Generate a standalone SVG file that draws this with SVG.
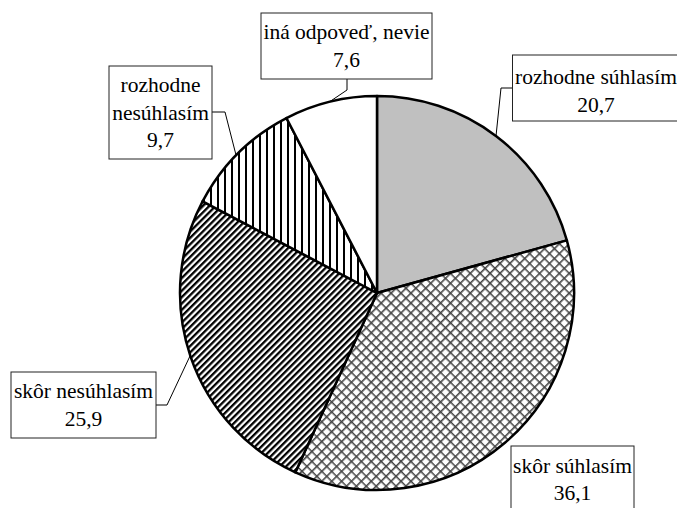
<svg xmlns="http://www.w3.org/2000/svg" width="677" height="508" viewBox="0 0 677 508">
<style>
.lbl{fill:#fff;stroke:#222;stroke-width:1}
text{font-family:'Liberation Serif','Times New Roman','DejaVu Serif',serif;font-size:21.5px;fill:#000;text-anchor:middle}
.slice{stroke:#000;stroke-width:2.5;stroke-linejoin:round}
.lead{fill:none;stroke:#000;stroke-width:1}
</style>
<defs>
<pattern id="cross" patternUnits="userSpaceOnUse" width="7" height="7" patternTransform="rotate(45)">
<rect width="7" height="7" fill="#fff"/>
<path d="M0 0.8H7M0.8 0V7" stroke="#444" stroke-width="1.6"/>
</pattern>
<pattern id="diag" patternUnits="userSpaceOnUse" width="4.5" height="4.5" patternTransform="rotate(-45)">
<rect width="4.5" height="4.5" fill="#fff"/>
<rect y="0" width="4.5" height="2.3" fill="#000"/>
</pattern>
<pattern id="vert" patternUnits="userSpaceOnUse" width="7" height="7">
<rect width="7" height="7" fill="#fff"/>
<rect x="0" width="2" height="7" fill="#000"/>
</pattern>
</defs>
<g id="pie">
<g id="slice-rozhodne-suhlasim"><path class="slice" fill="#c0c0c0" d="M377 293L377 96A197 197 0 0 1 566.85 240.42Z"/></g>
<g id="slice-skor-suhlasim"><path class="slice" fill="url(#cross)" d="M377 293L566.85 240.42A197 197 0 0 1 295.36 472.29Z"/></g>
<g id="slice-skor-nesuhlasim"><path class="slice" fill="url(#diag)" d="M377 293L295.36 472.29A197 197 0 0 1 202.6 201.4Z"/></g>
<g id="slice-rozhodne-nesuhlasim"><path class="slice" fill="url(#vert)" d="M377 293L202.6 201.4A197 197 0 0 1 286.44 118.05Z"/></g>
<g id="slice-ina"><path class="slice" fill="#fff" d="M377 293L286.44 118.05A197 197 0 0 1 377 96Z"/></g>
</g>
<g id="connectors">
<polyline class="lead" points="347,79 347,90 330,101.5"/>
<polyline class="lead" points="212,112 225,112 236,155"/>
<polyline class="lead" points="512,88 501,88 496,136"/>
<polyline class="lead" points="156,405 167,405 190,356"/>
</g>
<g id="label-ina">
<rect class="lbl" x="261" y="13" width="171" height="66"/>
<text x="346.5" y="38.5">iná odpoveď, nevie</text>
<text x="346.5" y="66.5">7,6</text>
</g>
<g id="label-rozhodne-nesuhlasim">
<rect class="lbl" x="109" y="66" width="103" height="93"/>
<text x="160.5" y="91.5">rozhodne</text>
<text x="160.5" y="119.5">nesúhlasím</text>
<text x="160.5" y="147">9,7</text>
</g>
<g id="label-rozhodne-suhlasim">
<rect class="lbl" x="512.5" y="55" width="170" height="66"/>
<text x="596" y="83.5">rozhodne súhlasím</text>
<text x="596" y="111.5">20,7</text>
</g>
<g id="label-skor-nesuhlasim">
<rect class="lbl" x="11" y="372" width="145" height="66"/>
<text x="83.5" y="398">skôr nesúhlasím</text>
<text x="83.5" y="425.5">25,9</text>
</g>
<g id="label-skor-suhlasim">
<rect class="lbl" x="511" y="446" width="123" height="70"/>
<text x="572.5" y="472.5">skôr súhlasím</text>
<text x="572.5" y="500">36,1</text>
</g>
</svg>
